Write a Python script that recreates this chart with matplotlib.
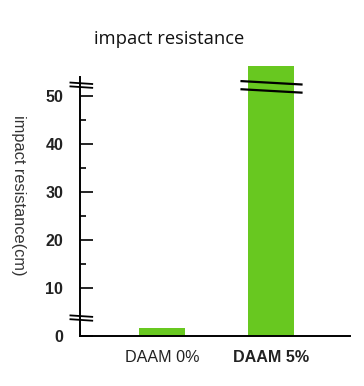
import matplotlib.pyplot as plt
from matplotlib.ticker import FixedLocator

# data (DAAM 5% bar is drawn broken)
categories = ["DAAM 0%", "DAAM 5%"]
values = [1.7, 56.4]
major_ticks = [0, 10, 20, 30, 40, 50]
minor_ticks = [15, 25, 35, 45]

fig = plt.figure(figsize=(3.64, 3.86), dpi=100)
ax = fig.add_axes([0.2198, 0.1295, 0.7417, 0.7075])

x = list(range(len(categories)))
ax.bar(x, values, width=0.42, color="#68c820", zorder=2)

ax.set_xlim(-0.752, 1.725)
ax.set_ylim(0, 57)

for s in ["top", "right"]:
    ax.spines[s].set_visible(False)
ax.spines["left"].set_bounds(0, 54)
ax.spines["left"].set_linewidth(1.4)
ax.spines["bottom"].set_linewidth(1.4)

ax.set_yticks(major_ticks)
ax.yaxis.set_minor_locator(FixedLocator(minor_ticks))
ax.tick_params(axis="y", which="major", direction="in", length=9.5, width=1.2, pad=12)
ax.tick_params(axis="y", which="minor", direction="in", length=4.5, width=1.2)
ax.tick_params(axis="x", length=0, pad=10)
ax.set_yticklabels([str(t) for t in major_ticks], fontweight="bold",
                   fontsize=11.5, family="Liberation Sans", color="#222222")
ax.set_xticks(x)
ax.set_xticklabels(categories, fontsize=11.6, family="Liberation Sans", color="#222222")
ax.get_xticklabels()[1].set_fontweight("bold")
for lbl in ax.get_xticklabels():
    lbl.set_x(lbl.get_position()[0])

# axis break marks
for y0, y1 in [(4.3, 4.0), (3.5, 3.2), (52.9, 52.6), (52.1, 51.8)]:
    ax.plot([-0.84, -0.64], [y0, y1], color="black", lw=1.3, clip_on=False, zorder=4)
# bar break marks
for y0, y1 in [(53.2, 52.5), (51.5, 50.8)]:
    ax.plot([0.73, 1.28], [y0, y1], color="black", lw=1.6, clip_on=False, zorder=4)

fig.text(0.465, 0.9, "impact resistance", ha="center", va="center",
         fontsize=13.2, family="Open Sans", color="#111111")
fig.text(0.05, 0.493, "impact resistance(cm)", ha="center", va="center",
         rotation=270, fontsize=11.8, family="Liberation Sans", color="#333333")

fig.savefig("out.png", dpi=100)
